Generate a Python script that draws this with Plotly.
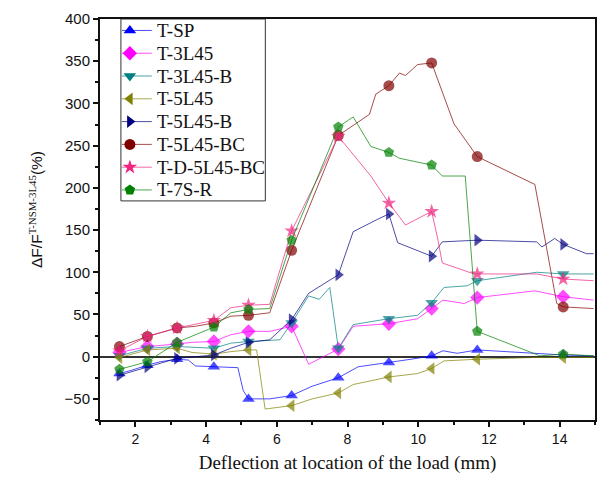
import plotly.graph_objects as go

# marker positions (deflection, mm) shared by all specimens
MX = [1.55, 2.34, 3.18, 4.22, 5.2, 6.42, 7.74, 9.17, 10.38, 11.67, 14.1]

names = ["T-SP", "T-3L45", "T-3L45-B", "T-5L45", "T-5L45-B", "T-5L45-BC", "T-D-5L45-BC", "T-7S-R"]

sp_x = [1.55, 1.9, 2.34, 2.7, 3.18, 3.5, 3.7, 4.22, 4.9, 5.05, 5.2, 5.8, 6.42, 7.0, 7.74, 8.3, 9.17, 9.8, 10.38, 10.7, 11.1, 11.67, 13.3, 14.1, 14.96]
sp_y = [-20, -16, -10, -6, -3, -4, -11, -12, -13, -40, -50, -50, -46, -35, -25, -12, -7, -3, 1, 7, 4, 8, 4, 2, 1]

l3_x = [1.55, 2.34, 3.18, 3.6, 4.22, 4.7, 5.2, 5.8, 6.42, 6.9, 7.74, 8.16, 9.17, 9.98, 10.38, 10.7, 11.3, 11.67, 13.3, 14.1, 14.96]
l3_y = [5, 12, 15, 17, 18, 26, 30, 30, 36, -9, 9, 36, 39, 45, 57, 67, 63, 70, 78, 71, 67]

l3b_x = [1.55, 2.34, 3.18, 4.22, 4.7, 5.2, 6.09, 6.42, 6.9, 7.2, 7.5, 7.74, 8.16, 9.17, 9.98, 10.38, 10.73, 11.39, 11.67, 13.35, 14.1, 14.96]
l3b_y = [1, 10, 12, 10, 16, 18, 20, 40, 72, 68, 82, 10, 38, 45, 49, 64, 82, 84, 90, 100, 98, 98]

l5_x = [1.55, 2.34, 3.18, 3.6, 4.22, 4.7, 5.2, 5.43, 5.67, 6.42, 7.0, 7.74, 8.16, 9.17, 9.98, 10.38, 10.73, 11.67, 13.3, 14.1, 14.96]
l5_y = [-1, 8, 10, 5, 3, 6, 8, 8, -62, -58, -50, -43, -33, -24, -20, -14, -5, -3, -1, -1, -1]

l5b_x = [1.55, 2.34, 3.18, 4.22, 4.7, 5.2, 5.8, 6.42, 6.9, 7.74, 8.16, 8.86, 9.17, 9.42, 10.38, 10.68, 11.67, 13.35, 13.5, 13.86, 14.1, 14.76, 14.96]
l5b_y = [-22, -12, -2, 2, 10, 17, 20, 44, 75, 97, 148, 163, 169, 135, 119, 136, 138, 136, 130, 140, 133, 122, 122]

bc_x = [1.55, 2.34, 3.18, 3.7, 4.22, 4.7, 5.2, 5.8, 6.42, 7.74, 8.62, 8.8, 9.17, 9.47, 9.64, 9.98, 10.38, 11.01, 11.67, 13.3, 13.92, 14.1, 14.96]
bc_y = [12, 24, 34, 36, 40, 48, 49, 52, 126, 262, 287, 311, 321, 336, 333, 346, 348, 276, 237, 204, 63, 59, 57]

dbc_x = [1.55, 2.34, 3.18, 4.22, 4.7, 5.2, 5.8, 6.42, 7.74, 8.66, 9.17, 9.64, 10.38, 10.55, 10.68, 11.58, 11.67, 13.35, 14.1, 14.96]
dbc_y = [7, 24, 34, 43, 58, 61, 62, 149, 261, 214, 182, 156, 172, 140, 111, 98, 98, 98, 92, 90]

s7_x = [1.55, 2.34, 3.18, 4.22, 4.7, 5.2, 5.8, 6.42, 7.74, 8.16, 8.66, 9.17, 9.47, 10.38, 10.68, 11.33, 11.67, 13.44, 14.1, 14.96]
s7_y = [-15, -6, 17, 35, 52, 56, 57, 138, 272, 284, 249, 242, 235, 227, 214, 214, 30, 1, 3, 1]

series_x = [sp_x, l3_x, l3b_x, l5_x, l5b_x, bc_x, dbc_x, s7_x]
series_y = [sp_y, l3_y, l3b_y, l5_y, l5b_y, bc_y, dbc_y, s7_y]
colors = ["#0000FF", "#FF00FF", "#008080", "#808000", "#000080", "#800000", "#F0237F", "#008000"]
line_colors = ["rgba(0,0,255,0.7)", "rgba(255,0,255,0.7)", "rgba(0,128,128,0.7)", "rgba(128,128,0,0.7)",
               "rgba(0,0,128,0.7)", "rgba(128,0,0,0.7)", "rgba(240,35,127,0.7)", "rgba(0,128,0,0.7)"]
symbols = ["triangle-up", "diamond", "triangle-down", "triangle-left", "triangle-right", "circle", "star", "pentagon"]

SERIF = "Liberation Serif, Times New Roman, serif"
SANS = "Liberation Sans, Arial, sans-serif"

# plot area in pixels (for placing the boxed legend)
W, H = 607, 488
L, R, T, B = 100, 10, 10, 68
PW, PH = W - L - R, H - T - B


def px_x(p):
    return (p - L) / PW


def px_y(p):
    return (H - B - p) / PH


fig = go.Figure()
for nm, xs, ys, c, lc, s in zip(names, series_x, series_y, colors, line_colors, symbols):
    sizes = [11 if x in MX else 0 for x in xs]
    fig.add_trace(go.Scatter(
        x=xs, y=ys, name=nm, mode="lines+markers", showlegend=False,
        line=dict(color=lc, width=1),
        marker=dict(symbol=s, color=c, size=sizes, line=dict(width=0)),
    ))

# boxed legend (upper left)
leg_left, leg_right, leg_top, leg_bottom = 121, 266, 10, 196
row0, row_step = 21.7, 23.3
shapes = [dict(type="rect", xref="paper", yref="paper",
               x0=px_x(leg_left), x1=px_x(leg_right), y0=px_y(leg_bottom), y1=px_y(leg_top),
               line=dict(color="#333", width=1), fillcolor="white", layer="below")]
annotations = []
leg_mx, leg_my = [], []
for i, (nm, lc) in enumerate(zip(names, line_colors)):
    yr = row0 + i * row_step
    shapes.append(dict(type="line", xref="paper", yref="paper",
                       x0=px_x(leg_left + 1), x1=px_x(152), y0=px_y(yr), y1=px_y(yr),
                       line=dict(color=lc, width=1), layer="below"))
    annotations.append(dict(text=nm, xref="paper", yref="paper", x=px_x(155), y=px_y(yr),
                            xanchor="left", yanchor="middle", showarrow=False,
                            font=dict(family=SERIF, size=19, color="#111")))
    leg_mx.append(px_x(130))
    leg_my.append(px_y(yr))

fig.add_trace(go.Scatter(
    x=leg_mx, y=leg_my, xaxis="x2", yaxis="y2", mode="markers", showlegend=False,
    hoverinfo="skip",
    marker=dict(symbol=symbols, color=colors, size=11, line=dict(width=0)),
))

annotations.append(dict(
    text="ΔF/F<sup><span style=\"font-family:Liberation Serif\">T-NSM-3L45</span></sup>(%)",
    xref="paper", yref="paper", x=px_x(35), y=px_y(205), xanchor="center", yanchor="middle",
    textangle=-90, showarrow=False,
    font=dict(family=SANS, size=15.5, color="#111"),
))

fig.update_layout(
    width=W, height=H,
    margin=dict(l=L, r=R, t=T, b=B),
    paper_bgcolor="white", plot_bgcolor="white",
    showlegend=False,
    shapes=shapes,
    annotations=annotations,
    xaxis=dict(
        range=[1, 15], tickvals=[2, 4, 6, 8, 10, 12, 14],
        ticks="outside", ticklen=5, tickwidth=1.5, tickcolor="#111",
        showline=True, linecolor="#111", linewidth=2, mirror=True,
        showgrid=False, zeroline=False,
        minor=dict(ticks="outside", ticklen=3, tickvals=[1, 3, 5, 7, 9, 11, 13, 15], tickcolor="#111"),
        tickfont=dict(family=SANS, size=14, color="#111"),
        title=dict(text="Deflection at location of the load (mm)",
                   font=dict(family=SERIF, size=19, color="#111"), standoff=10),
    ),
    yaxis=dict(
        range=[-75, 400], tickvals=[-50, 0, 50, 100, 150, 200, 250, 300, 350, 400],
        ticks="outside", ticklen=5, tickwidth=1.5, tickcolor="#111",
        showline=True, linecolor="#111", linewidth=2, mirror=True,
        showgrid=False, zeroline=True, zerolinecolor="#333", zerolinewidth=2,
        minor=dict(ticks="outside", ticklen=3, dtick=25, tick0=-75, tickcolor="#111"),
        tickfont=dict(family=SANS, size=15, color="#111"),
    ),
    xaxis2=dict(overlaying="x", range=[0, 1], visible=False, anchor="y2"),
    yaxis2=dict(overlaying="y", range=[0, 1], visible=False, anchor="x2"),
)

fig.write_html("out.html")
